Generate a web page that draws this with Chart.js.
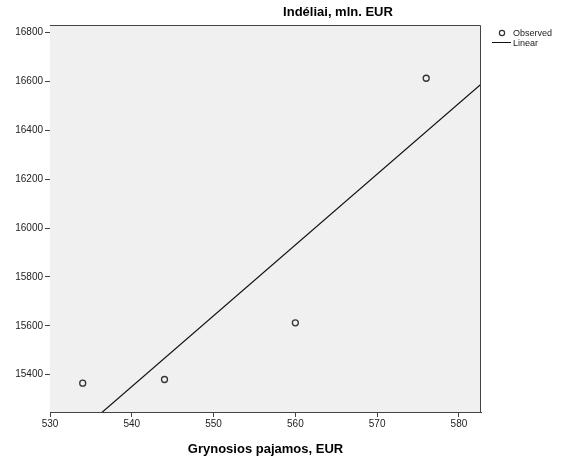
<!DOCTYPE html>
<html>
<head>
<meta charset="utf-8">
<script src="https://cdn.jsdelivr.net/npm/chart.js@4"></script>
<style>
html,body{margin:0;padding:0;background:#fff;}
#wrap{width:571px;height:459px;position:relative;}
</style>
</head>
<body>
<div id="wrap"><canvas id="c" width="571" height="459"></canvas></div>
<script>
const chartTitle = "Indéliai, mln. EUR";
const xTitle = "Grynosios pajamos, EUR";
const observedX = [534, 544, 560, 576];
const observedY = [15365, 15380, 15612, 16613];
const xTicks = [530, 540, 550, 560, 570, 580];
const yTicks = [15400, 15600, 15800, 16000, 16200, 16400, 16600, 16800];
const xRange = [530, 582.7];
const yRange = [15247, 16831];
const legendLabels = ["Observed", "Linear"];

// least squares fit of the observed points
const n = observedX.length;
const mx = observedX.reduce((a,b)=>a+b,0)/n;
const my = observedY.reduce((a,b)=>a+b,0)/n;
let sxy=0, sxx=0;
for(let i=0;i<n;i++){sxy+=(observedX[i]-mx)*(observedY[i]-my);sxx+=(observedX[i]-mx)**2;}
const slope = sxy/sxx, icpt = my - slope*mx;
const fitPts = xRange.map(x=>({x:x, y:icpt+slope*x}));

const FONT = "'Liberation Sans', Arial, sans-serif";

const decor = {
  id:'decor',
  beforeDatasetsDraw(chart){
    const {ctx, chartArea:a} = chart;
    ctx.save();
    ctx.fillStyle = '#f0f0f0';
    ctx.fillRect(a.left, a.top, a.right-a.left, a.bottom-a.top);
    ctx.restore();
  },
  afterDraw(chart){
    const {ctx, chartArea:a} = chart;
    ctx.save();
    ctx.strokeStyle = '#444';
    ctx.lineWidth = 1;
    ctx.beginPath();
    ctx.moveTo(a.left, Math.round(a.top)+0.5);
    ctx.lineTo(Math.round(a.right)-0.5, Math.round(a.top)+0.5);
    ctx.lineTo(Math.round(a.right)-0.5, a.bottom);
    ctx.stroke();
    ctx.fillStyle = '#000';
    ctx.font = "bold 13px " + FONT;
    ctx.textAlign = 'center';
    ctx.textBaseline = 'middle';
    ctx.fillText(chartTitle, 338, 12);
    ctx.fillText(xTitle, (a.left+a.right)/2, 449);
    // legend
    ctx.font = "9px " + FONT;
    ctx.textAlign = 'left';
    ctx.fillStyle = '#222';
    ctx.strokeStyle = '#333';
    ctx.lineWidth = 1.2;
    ctx.beginPath(); ctx.arc(502, 33, 2.6, 0, Math.PI*2); ctx.stroke();
    ctx.fillText(legendLabels[0], 513, 33.5);
    ctx.strokeStyle = '#111';
    ctx.lineWidth = 1;
    ctx.beginPath(); ctx.moveTo(492, 42.5); ctx.lineTo(511, 42.5); ctx.stroke();
    ctx.fillText(legendLabels[1], 513, 43.5);
    ctx.restore();
  }
};

new Chart(document.getElementById('c'), {
  type:'scatter',
  data:{
    datasets:[
      {
        label:legendLabels[0],
        data:observedX.map((x,i)=>({x:x,y:observedY[i]})),
        pointStyle:'circle',
        pointRadius:3,
        pointBorderWidth:1.3,
        borderColor:'#333',
        backgroundColor:'rgba(0,0,0,0)',
        order:1
      },
      {
        label:legendLabels[1],
        type:'line',
        data:fitPts,
        showLine:true,
        borderColor:'#111',
        borderWidth:1.2,
        pointRadius:0,
        fill:false,
        order:2
      }
    ]
  },
  options:{
    responsive:false,
    animation:false,
    events:[],
    layout:{padding:{top:25,right:90,left:0,bottom:0}},
    plugins:{legend:{display:false},title:{display:false},tooltip:{enabled:false}},
    scales:{
      x:{
        type:'linear',
        min:xRange[0], max:xRange[1],
        afterBuildTicks(s){ s.ticks = xTicks.map(v=>({value:v})); },
        afterFit(s){ s.height = 47; },
        grid:{display:true, drawOnChartArea:false, drawTicks:true, tickLength:5, color:'#444'},
        border:{display:true, color:'#444', width:1},
        ticks:{font:{family:FONT,size:10}, color:'#222', padding:1, maxRotation:0, autoSkip:false, callback:v=>String(v)}
      },
      y:{
        type:'linear',
        min:yRange[0], max:yRange[1],
        afterBuildTicks(s){ s.ticks = yTicks.map(v=>({value:v})); },
        afterFit(s){ s.width = 50; },
        grid:{display:true, drawOnChartArea:false, drawTicks:true, tickLength:5, color:'#444'},
        border:{display:true, color:'#444', width:1},
        ticks:{font:{family:FONT,size:10}, color:'#222', padding:2, autoSkip:false, callback:v=>String(v)}
      }
    }
  },
  plugins:[decor]
});
</script>
</body>
</html>
